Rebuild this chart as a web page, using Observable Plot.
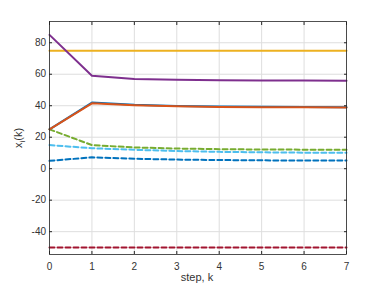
<!DOCTYPE html>
<html><head><meta charset="utf-8">
<script src="https://cdn.jsdelivr.net/npm/d3@7"></script>
<script src="https://cdn.jsdelivr.net/npm/@observablehq/plot@0.6"></script>
<style>
html,body{margin:0;padding:0;background:#fff;}
#chart svg{display:block;}
</style>
</head><body><div id="chart"></div>
<script>
const steps = [0, 1, 2, 3, 4, 5, 6, 7];
const xTicks = [0, 1, 2, 3, 4, 5, 6, 7];
const yTicks = [-40, -20, 0, 20, 40, 60, 80];

const x1 = [25, 42, 40.6, 39.9, 39.5, 39.3, 39.2, 39.1];   // blue solid
const x2 = [25, 41.5, 40.3, 39.6, 39.2, 39.0, 39.0, 38.9]; // orange solid
const x3 = [75, 75, 75, 75, 75, 75, 75, 75];               // yellow solid
const x4 = [85, 59, 57, 56.5, 56.2, 56.0, 56.0, 55.9];     // purple solid
const x5 = [25, 15, 13.5, 12.8, 12.4, 12.2, 12.1, 12.0];   // green dashed
const x6 = [15, 13, 12, 11.2, 10.7, 10.4, 10.2, 10.1];     // light blue dashed
const x7 = [5, 7.2, 6.3, 5.8, 5.5, 5.3, 5.2, 5.2];         // dark blue dashed
const x8 = [-50, -50, -50, -50, -50, -50, -50, -50];       // red dashed

const solid = [
  {values: x1, color: "#0072BD"},
  {values: x2, color: "#D95319"},
  {values: x3, color: "#EDB120"},
  {values: x4, color: "#7E2F8E"}
];
const dashed = [
  {values: x5, color: "#77AC30"},
  {values: x6, color: "#4DBEEE"},
  {values: x7, color: "#0072BD"},
  {values: x8, color: "#A2142F"}
];

const toRows = (s) => steps.map((k, i) => ({k, v: s.values[i]}));

const font = "Liberation Sans, Arial, Helvetica, sans-serif";
const marks = [
  Plot.gridX(xTicks, {stroke: "#dedede", strokeOpacity: 1, strokeWidth: 1}),
  Plot.gridY(yTicks, {stroke: "#dedede", strokeOpacity: 1, strokeWidth: 1}),
];
for (const s of dashed) {
  marks.push(Plot.line(toRows(s), {x: "k", y: "v", stroke: s.color, strokeWidth: 2, strokeDasharray: "5,3"}));
}
for (const s of solid) {
  marks.push(Plot.line(toRows(s), {x: "k", y: "v", stroke: s.color, strokeWidth: 2}));
}
const fmt = (d) => String(d);
marks.push(
  Plot.axisX(xTicks, {anchor: "bottom", tickSize: -3, tickPadding: 11, tickFormat: fmt, stroke: "#262626", fill: "#333", label: null, fontSize: 10}),
  Plot.axisX(xTicks, {anchor: "top", tickSize: -3, tickFormat: () => "", stroke: "#262626", label: null}),
  Plot.axisY(yTicks, {anchor: "left", tickSize: -3, tickPadding: 6.5, tickFormat: fmt, stroke: "#262626", fill: "#333", label: null, fontSize: 10}),
  Plot.axisY(yTicks, {anchor: "right", tickSize: -3, tickFormat: () => "", stroke: "#262626", label: null}),
  Plot.frame({stroke: "#262626", strokeWidth: 0.8})
);

const chart = Plot.plot({
  width: 382,
  height: 286,
  marginLeft: 49,
  marginRight: 36,
  marginTop: 21,
  marginBottom: 32,
  style: {fontFamily: font, fontSize: "10px", color: "#262626", background: "#fff"},
  x: {domain: [0, 7], label: null},
  y: {domain: [-54.5, 93.5], label: null},
  marks
});
document.getElementById("chart").appendChild(chart);

const svg = d3.select(chart);
svg.append("text")
  .attr("x", 197).attr("y", 281)
  .attr("text-anchor", "middle")
  .attr("font-family", font).attr("font-size", 11).attr("fill", "#333")
  .text("step, k");
const yl = svg.append("text")
  .attr("transform", "translate(22,138) rotate(-90)")
  .attr("text-anchor", "middle")
  .attr("font-family", font).attr("font-size", 11).attr("fill", "#333");
yl.append("tspan").text("x");
yl.append("tspan").attr("font-size", 8).attr("dy", 3).text("i");
yl.append("tspan").attr("dy", -3).text("(k)");
</script>
</body></html>
